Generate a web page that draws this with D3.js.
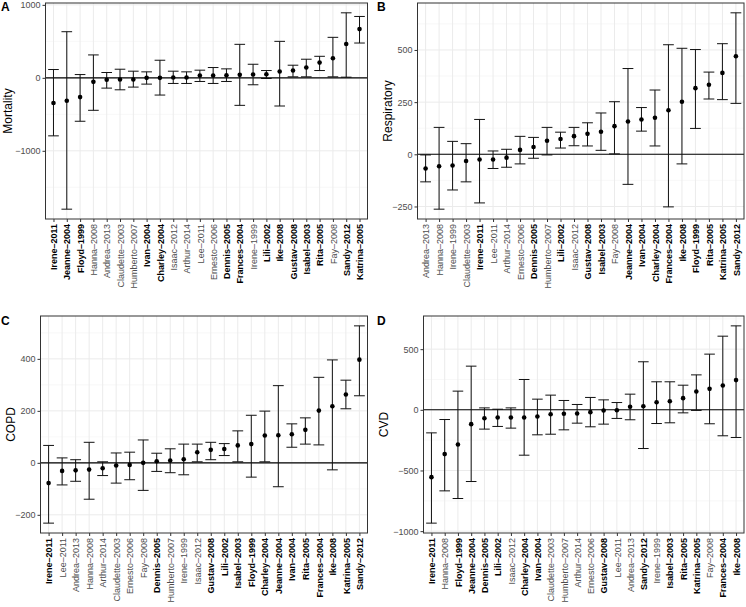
<!DOCTYPE html>
<html>
<head>
<meta charset="utf-8">
<script src="https://cdn.jsdelivr.net/npm/d3@7"></script>
<style>
  body { margin: 0; background: #fff; }
  svg { display: block; font-family: "Liberation Sans", Arial, sans-serif; }
</style>
</head>
<body>
<svg id="chart" width="746" height="607"></svg>
<script>
// storms shown in bold on the x axes
const boldStorms = ["Irene–2011","Jeanne–2004","Floyd–1999","Ivan–2004","Charley–2004","Dennis–2005",
  "Frances–2004","Lili–2002","Ike–2008","Gustav–2008","Isabel–2003","Rita–2005","Sandy–2012","Katrina–2005"]

// A - Mortality
const mortCats = ["Irene–2011","Jeanne–2004","Floyd–1999","Hanna–2008","Andrea–2013","Claudette–2003","Humberto–2007",
  "Ivan–2004","Charley–2004","Isaac–2012","Arthur–2014","Lee–2011","Ernesto–2006","Dennis–2005","Frances–2004",
  "Irene–1999","Lili–2002","Ike–2008","Gustav–2008","Isabel–2003","Rita–2005","Fay–2008","Sandy–2012","Katrina–2005"]
const mortEst = [-345,-314,-264,-55,-27,-23,-23,0,0,5,5,32,32,36,41,45,50,86,100,141,209,268,464,668]
const mortLow = [-795,-1800,-595,-445,-141,-164,-127,-86,-236,-77,-77,-50,-77,-50,-377,-95,-9,-386,14,14,100,14,9,477]
const mortHigh = [114,632,45,314,73,118,91,82,241,91,82,105,141,123,459,186,100,500,173,255,295,555,891,841]
const mortTicks = [-1000,0,1000]

// B - Respiratory
const respCats = ["Andrea–2013","Hanna–2008","Irene–1999","Claudette–2003","Irene–2011","Lee–2011","Arthur–2014",
  "Ernesto–2006","Dennis–2005","Humberto–2007","Lili–2002","Isaac–2012","Gustav–2008","Isabel–2003","Fay–2008",
  "Jeanne–2004","Ivan–2004","Charley–2004","Frances–2004","Ike–2008","Floyd–1999","Rita–2005","Katrina–2005","Sandy–2012"]
const respEst = [-68,-57,-54,-32,-25,-25,-16,21,35,65,73,87,98,108,135,157,167,175,211,252,317,333,390,470]
const respLow = [-132,-263,-171,-132,-233,-68,-62,-46,-19,-3,30,41,40,19,2,-144,111,40,-252,-46,124,265,262,244]
const respHigh = [-3,129,62,51,167,16,24,86,81,129,106,129,151,198,252,411,224,308,525,508,502,394,530,678]
const respTicks = [-250,0,250,500]

// C - COPD
const copdCats = ["Irene–2011","Lee–2011","Andrea–2013","Hanna–2008","Arthur–2014","Claudette–2003","Ernesto–2006",
  "Fay–2008","Dennis–2005","Humberto–2007","Irene–1999","Isaac–2012","Gustav–2008","Lili–2002","Isabel–2003",
  "Floyd–1999","Charley–2004","Jeanne–2004","Ivan–2004","Rita–2005","Frances–2004","Ike–2008","Katrina–2005","Sandy–2012"]
const copdEst = [-78,-31,-29,-26,-21,-10,-8,0,6,9,14,41,50,53,67,72,105,106,110,127,201,218,263,397]
const copdLow = [-232,-85,-71,-140,-49,-78,-65,-106,-33,-38,-46,4,12,28,4,-55,4,-92,60,72,69,-27,208,258]
const copdHigh = [67,19,12,79,4,38,41,88,37,54,72,72,79,74,123,183,199,297,150,173,329,396,318,527]
const copdTicks = [-200,0,200,400]

// D - CVD
const cvdCats = ["Irene–2011","Hanna–2008","Floyd–1999","Jeanne–2004","Dennis–2005","Lili–2002","Isaac–2012",
  "Charley–2004","Ivan–2004","Claudette–2003","Humberto–2007","Arthur–2014","Ernesto–2006","Gustav–2008","Lee–2011",
  "Andrea–2013","Sandy–2012","Irene–1999","Isabel–2003","Rita–2005","Katrina–2005","Fay–2008","Frances–2004","Ike–2008"]
const cvdEst = [-555,-365,-286,-118,-69,-63,-63,-63,-55,-36,-33,-30,-19,-5,-3,25,30,63,71,96,151,173,201,245]
const cvdLow = [-934,-668,-731,-591,-159,-137,-151,-374,-206,-201,-165,-110,-140,-118,-71,-82,-319,-113,-107,-25,-5,-115,-214,-228]
const cvdHigh = [-190,-80,154,360,16,5,16,250,88,121,77,44,102,82,60,129,396,231,231,203,288,459,607,692]
const cvdTicks = [-1000,-500,0,500]

const svg = d3.select('#chart')
const fmt = d => d3.format('d')(d).replace('-', '\u2212')

function drawPanel(p){
  let lo = d3.min(p.low), hi = d3.max(p.high)
  let pad = (hi - lo) * 0.05
  let y = d3.scaleLinear().domain([lo - pad, hi + pad]).range([p.y1, p.y0])
  let x = d3.scalePoint().domain(p.cats).range([p.x0, p.x1]).padding(0.6)
  let step = x.step()

  let g = svg.append('g')

  // minor grid (halfway between major ticks)
  let minor = []
  for(let i = 0; i < p.ticks.length - 1; i++) minor.push((p.ticks[i] + p.ticks[i+1]) / 2)
  let tStep = p.ticks[1] - p.ticks[0]
  minor.push(p.ticks[0] - tStep/2, p.ticks[p.ticks.length-1] + tStep/2)
  minor = minor.filter(v => v > y.domain()[0] && v < y.domain()[1])

  g.selectAll('.minor').data(minor).enter().append('line')
    .attr('x1', p.x0).attr('x2', p.x1)
    .attr('y1', d => y(d)).attr('y2', d => y(d))
    .attr('stroke', '#f3f3f3').attr('stroke-width', 0.6)

  g.selectAll('.hmajor').data(p.ticks).enter().append('line')
    .attr('x1', p.x0).attr('x2', p.x1)
    .attr('y1', d => y(d)).attr('y2', d => y(d))
    .attr('stroke', '#ebebeb').attr('stroke-width', 1)

  g.selectAll('.vmajor').data(p.cats).enter().append('line')
    .attr('x1', d => x(d)).attr('x2', d => x(d))
    .attr('y1', p.y0).attr('y2', p.y1)
    .attr('stroke', '#ebebeb').attr('stroke-width', 1)

  // zero line
  g.append('line')
    .attr('x1', p.x0).attr('x2', p.x1)
    .attr('y1', y(0)).attr('y2', y(0))
    .attr('stroke', '#000').attr('stroke-width', 1.1)

  // error bars
  let rows = p.cats.map((c, i) => ({c: c, est: p.est[i], low: p.low[i], high: p.high[i]}))
  let hw = step * 0.4
  let eb = g.selectAll('.eb').data(rows).enter().append('g')
  eb.append('line')
    .attr('x1', d => x(d.c)).attr('x2', d => x(d.c))
    .attr('y1', d => y(d.low)).attr('y2', d => y(d.high))
  eb.append('line')
    .attr('x1', d => x(d.c) - hw).attr('x2', d => x(d.c) + hw)
    .attr('y1', d => y(d.low)).attr('y2', d => y(d.low))
  eb.append('line')
    .attr('x1', d => x(d.c) - hw).attr('x2', d => x(d.c) + hw)
    .attr('y1', d => y(d.high)).attr('y2', d => y(d.high))
  eb.selectAll('line').attr('stroke', '#111').attr('stroke-width', 1)

  g.selectAll('.pt').data(rows).enter().append('circle')
    .attr('cx', d => x(d.c)).attr('cy', d => y(d.est))
    .attr('r', 2.3).attr('fill', '#000')

  // panel border
  g.append('rect')
    .attr('x', p.x0).attr('y', p.y0)
    .attr('width', p.x1 - p.x0).attr('height', p.y1 - p.y0)
    .attr('fill', 'none').attr('stroke', '#333').attr('stroke-width', 1)

  // y axis
  let yAxis = g.append('g').attr('transform', `translate(${p.x0},0)`)
    .call(d3.axisLeft(y).tickValues(p.ticks).tickSize(3).tickPadding(2).tickFormat(fmt))
  yAxis.select('.domain').remove()
  yAxis.selectAll('line').attr('stroke', '#333')
  yAxis.selectAll('text').attr('fill', '#4d4d4d').style('font-size', '9px')
    .style('font-family', '"Liberation Sans", Arial, sans-serif')

  // x axis
  let xAxis = g.append('g').attr('transform', `translate(0,${p.y1})`)
    .call(d3.axisBottom(x).tickSize(3).tickPadding(2))
  xAxis.select('.domain').remove()
  xAxis.selectAll('line').attr('stroke', '#333')
  xAxis.selectAll('text')
    .attr('transform', 'rotate(-90)')
    .attr('x', -5).attr('y', 0).attr('dy', '0.35em')
    .style('text-anchor', 'end')
    .style('font-size', '9px')
    .style('font-family', '"Liberation Sans", Arial, sans-serif')
    .style('font-weight', d => boldStorms.includes(d) ? 'bold' : 'normal')
    .attr('fill', d => boldStorms.includes(d) ? '#000' : '#4d4d4d')

  // axis title
  svg.append('text')
    .attr('transform', `translate(${p.titleX},${(p.y0 + p.y1) / 2}) rotate(-90)`)
    .attr('text-anchor', 'middle').attr('dominant-baseline', 'central')
    .style('font-size', '12px').attr('fill', '#000')
    .text(p.title)

  // tag
  svg.append('text')
    .attr('x', p.tagX).attr('y', p.tagY)
    .style('font-size', '12px').style('font-weight', 'bold')
    .text(p.tag)
}

drawPanel({tag: 'A', title: 'Mortality', cats: mortCats, est: mortEst, low: mortLow, high: mortHigh, ticks: mortTicks,
  x0: 45.5, x1: 367.5, y0: 3, y1: 219, titleX: 8, tagX: 1, tagY: 11})
drawPanel({tag: 'B', title: 'Respiratory', cats: respCats, est: respEst, low: respLow, high: respHigh, ticks: respTicks,
  x0: 417.5, x1: 744, y0: 3, y1: 219, titleX: 388, tagX: 377, tagY: 11})
drawPanel({tag: 'C', title: 'COPD', cats: copdCats, est: copdEst, low: copdLow, high: copdHigh, ticks: copdTicks,
  x0: 40.5, x1: 367.5, y0: 316, y1: 533, titleX: 11, tagX: 1, tagY: 325})
drawPanel({tag: 'D', title: 'CVD', cats: cvdCats, est: cvdEst, low: cvdLow, high: cvdHigh, ticks: cvdTicks,
  x0: 423.5, x1: 744, y0: 316, y1: 533, titleX: 383.5, tagX: 377, tagY: 325})
</script>
</body>
</html>
